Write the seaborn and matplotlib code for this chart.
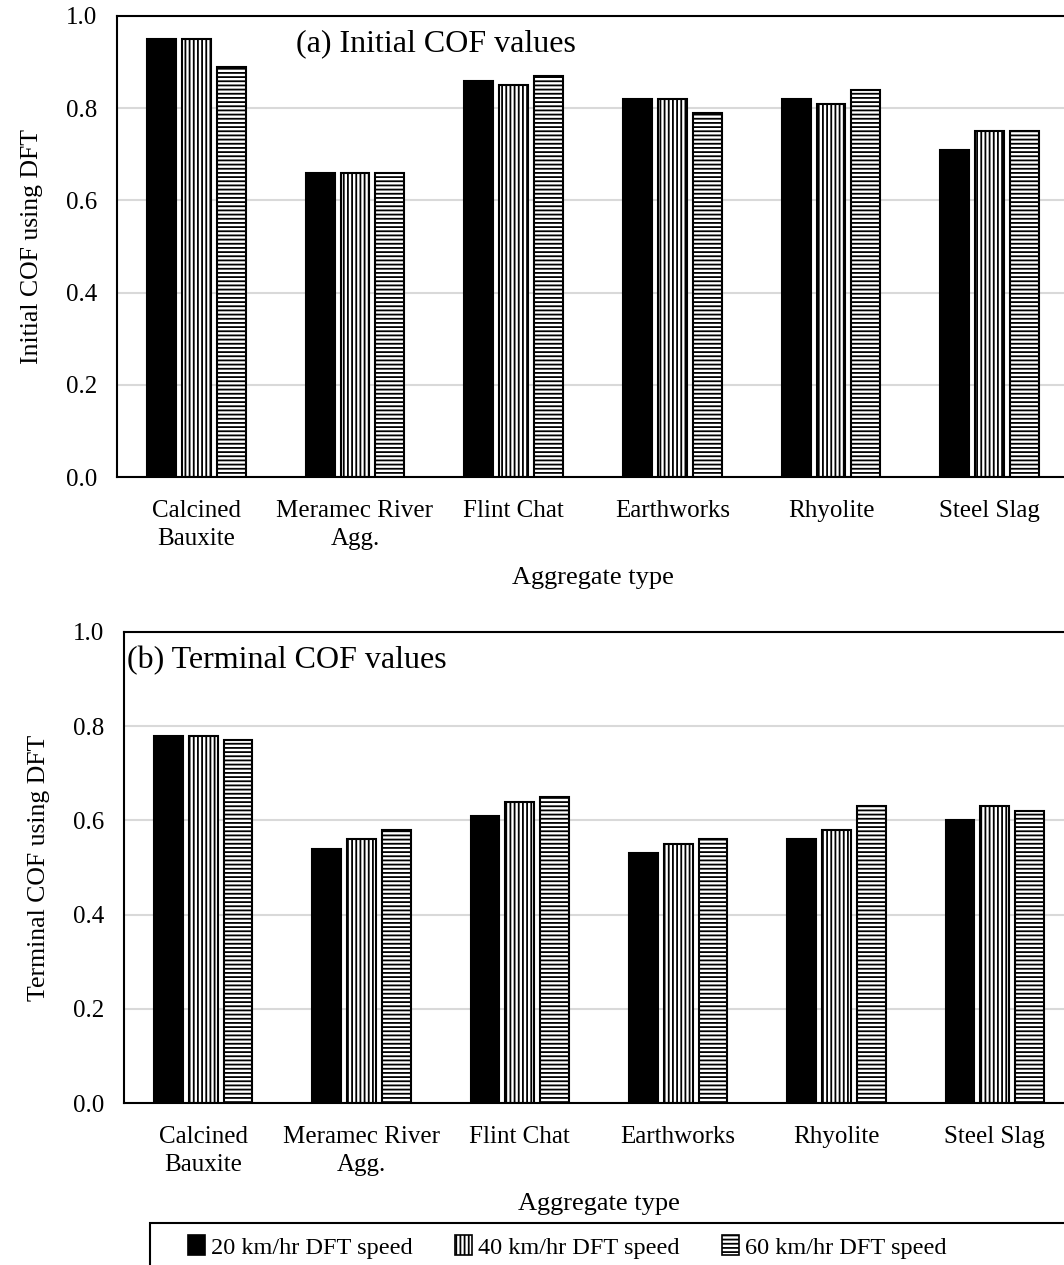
import numpy as np
import pandas as pd
import matplotlib
matplotlib.use("Agg")
import matplotlib.pyplot as plt
from matplotlib.patches import Patch, Rectangle
import seaborn as sns

aggregates = ["Calcined\nBauxite", "Meramec River\nAgg.", "Flint Chat",
              "Earthworks", "Rhyolite", "Steel Slag"]
speeds = ["20 km/hr DFT speed", "40 km/hr DFT speed", "60 km/hr DFT speed"]

initial_20 = [0.95, 0.66, 0.86, 0.82, 0.82, 0.71]
initial_40 = [0.95, 0.66, 0.85, 0.82, 0.81, 0.75]
initial_60 = [0.89, 0.66, 0.87, 0.79, 0.84, 0.75]

terminal_20 = [0.78, 0.54, 0.61, 0.53, 0.56, 0.60]
terminal_40 = [0.78, 0.56, 0.64, 0.55, 0.58, 0.63]
terminal_60 = [0.77, 0.58, 0.65, 0.56, 0.63, 0.62]

hatches = ["", "||||", "----"]
fills = ["black", "white", "white"]


def long_frame(s20, s40, s60):
    rows = []
    for spd, vals in zip(speeds, [s20, s40, s60]):
        for agg, v in zip(aggregates, vals):
            rows.append({"aggregate": agg, "speed": spd, "cof": v})
    return pd.DataFrame(rows)


sns.set_style("white")
plt.rcParams["font.family"] = ["Liberation Serif", "DejaVu Serif"]
plt.rcParams["text.color"] = "black"
plt.rcParams["axes.labelcolor"] = "black"
plt.rcParams["hatch.linewidth"] = 1.3
plt.rcParams["hatch.color"] = "black"

W, H = 1064, 1265
fig = plt.figure(figsize=(W / 100, H / 100), dpi=100)

panels = [
    (long_frame(initial_20, initial_40, initial_60), "Initial COF using DFT",
     "(a) Initial COF values", (117, 16, 1069, 477), 0.63, 16.5),
    (long_frame(terminal_20, terminal_40, terminal_60), "Terminal COF using DFT",
     "(b) Terminal COF values", (124, 632, 1074, 1103), -0.48, 17),
]

for df, ylab, note, (x0, y0, x1, y1), note_x, ypad in panels:
    ax = fig.add_axes([x0 / W, 1 - y1 / H, (x1 - x0) / W, (y1 - y0) / H])
    sns.barplot(data=df, x="aggregate", y="cof", hue="speed", palette=fills,
                edgecolor="black", linewidth=1.5, width=0.66, gap=0.17,
                saturation=1, legend=False, ax=ax)
    for cont, h in zip(ax.containers, hatches):
        for bar in cont:
            bar.set_hatch(h)
    ax.set_ylim(0, 1.0)
    ax.set_xlim(-0.5, 5.5)
    ax.set_yticks(np.arange(0, 1.01, 0.2))
    ax.set_yticklabels([f"{t:.1f}" for t in np.arange(0, 1.01, 0.2)])
    ax.yaxis.grid(True, color="#d9d9d9", linewidth=1.5)
    ax.set_axisbelow(True)
    for sp in ax.spines.values():
        sp.set_color("black")
        sp.set_linewidth(1.5)
    ax.tick_params(axis="both", direction="out", width=1.5,
                   labelsize=18, color="black", labelcolor="black")
    ax.tick_params(axis="x", length=4.5, pad=12)
    ax.tick_params(axis="y", length=5, pad=9)
    for lab in ax.get_xticklabels():
        lab.set_linespacing(1.35)
    ax.set_xlabel("Aggregate type", fontsize=19, labelpad=12)
    ax.set_ylabel(ylab, fontsize=18.5, labelpad=ypad)
    ax.text(note_x, 0.94, note, fontsize=23, ha="left", va="center")

handles = [Patch(facecolor=f, edgecolor="black", hatch=h, linewidth=1.2)
           for f, h in zip(fills, hatches)]
fig.legend(handles, speeds, loc="center", ncol=3, frameon=False,
           bbox_to_anchor=(567 / W, 1 - 1247 / H), fontsize=17.5,
           handlelength=0.7, handleheight=0.9, handletextpad=0.25,
           columnspacing=1.75)
fig.patches.append(Rectangle((150 / W, -0.02), 0.95, 0.02 + (1265 - 1223) / H,
                             transform=fig.transFigure, fill=False,
                             edgecolor="black", linewidth=1.5))

fig.savefig("out.png", dpi=100)
